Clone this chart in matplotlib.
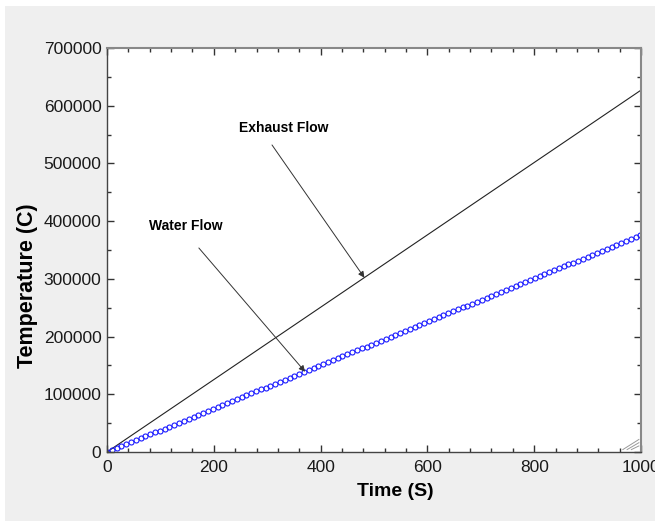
import matplotlib
matplotlib.use("Agg")
import matplotlib.pyplot as plt
from matplotlib.patches import Rectangle
from matplotlib.lines import Line2D
from matplotlib.ticker import MultipleLocator

# ---- data ----
exhaust_time = [0, 100, 200, 300, 400, 500, 600, 700, 800, 900, 1000]
exhaust_temp = [0, 62700, 125400, 188100, 250800, 313500, 376200, 438900,
                501600, 564300, 627000]

water_time = [0, 9, 18, 27, 36, 45, 54, 63, 72, 81, 90, 99, 108, 117, 126, 135,
              144, 153, 162, 171, 180, 189, 198, 207, 216, 225, 234, 243, 252,
              261, 270, 279, 288, 297, 306, 315, 324, 333, 342, 351, 360, 369,
              378, 387, 396, 405, 414, 423, 432, 441, 450, 459, 468, 477, 486,
              495, 504, 513, 522, 531, 540, 549, 558, 567, 576, 585, 594, 603,
              612, 621, 630, 639, 648, 657, 666, 675, 684, 693, 702, 711, 720,
              729, 738, 747, 756, 765, 774, 783, 792, 801, 810, 819, 828, 837,
              846, 855, 864, 873, 882, 891, 900, 909, 918, 927, 936, 945, 954,
              963, 972, 981, 990, 999]
water_temp = [0, 3400, 6800, 10200, 13500, 16900, 20300, 23700, 27100, 30500,
              33800, 37200, 40600, 44000, 47400, 50800, 54100, 57500, 60900,
              64300, 67700, 71100, 74400, 77800, 81200, 84600, 88000, 91400,
              94800, 98100, 101500, 104900, 108300, 111700, 115100, 118400,
              121800, 125200, 128600, 132000, 135400, 138700, 142100, 145500,
              148900, 152300, 155700, 159000, 162400, 165800, 169200, 172600,
              176000, 179400, 182700, 186100, 189500, 192900, 196300, 199700,
              203000, 206400, 209800, 213200, 216600, 220000, 223300, 226700,
              230100, 233500, 236900, 240300, 243600, 247000, 250400, 253800,
              257200, 260600, 264000, 267300, 270700, 274100, 277500, 280900,
              284300, 287600, 291000, 294400, 297800, 301200, 304600, 307900,
              311300, 314700, 318100, 321500, 324900, 328200, 331600, 335000,
              338400, 341800, 345200, 348600, 351900, 355300, 358700, 362100,
              365500, 368900, 372200, 375600]

x_label = "Time (S)"
y_label = "Temperature (C)"
exhaust_note = "Exhaust Flow"
water_note = "Water Flow"

plt.rcParams['font.family'] = ['Liberation Sans', 'DejaVu Sans']

fig = plt.figure(figsize=(6.55, 5.21), dpi=100, facecolor='#efefef')
# white margins at top / left of the screenshot
fig.patches.append(Rectangle((0, 1 - 6/521), 1, 6/521, transform=fig.transFigure,
                             facecolor='white', edgecolor='none', zorder=-1))
fig.patches.append(Rectangle((0, 0), 5/655, 1, transform=fig.transFigure,
                             facecolor='white', edgecolor='none', zorder=-1))

ax = fig.add_axes([107/655, 1 - 452/521, (641 - 107)/655, (452 - 48)/521])
ax.set_facecolor('white')

ax.plot(exhaust_time, exhaust_temp, color='#222222', lw=0.8)
ax.plot(water_time, water_temp, linestyle='none', marker='o', markersize=3.6,
        markerfacecolor='none', markeredgecolor='#1a1aff', markeredgewidth=0.8)

ax.set_xlim(0, 1000)
ax.set_ylim(0, 700000)
ax.xaxis.set_major_locator(MultipleLocator(200))
ax.xaxis.set_minor_locator(MultipleLocator(40))
ax.yaxis.set_major_locator(MultipleLocator(100000))
ax.yaxis.set_minor_locator(MultipleLocator(50000))
ax.tick_params(which='both', direction='in', top=True, right=True,
               colors='#333333', labelcolor='#1a1a1a', labelsize=12.5)
ax.tick_params(which='major', length=5, width=1)
ax.tick_params(which='minor', length=3, width=1)
ax.tick_params(axis='x', pad=6)
ax.tick_params(axis='y', pad=4)

for s in ['left', 'bottom']:
    ax.spines[s].set_color('#444444')
    ax.spines[s].set_linewidth(1.0)
for s in ['top', 'right']:
    ax.spines[s].set_color('#888888')
    ax.spines[s].set_linewidth(1.5)

ax.set_xlabel(x_label, fontsize=14, fontweight='bold')
ax.set_ylabel(y_label, fontsize=15.5, fontweight='bold')
ax.xaxis.set_label_coords((395 - 107) / 534, -(483 - 452) / 404)
ax.yaxis.set_label_coords(-(107 - 38) / 534, (452 - 286) / 404)

arrow = dict(arrowstyle='-|>', color='#333333', lw=0.7, mutation_scale=9,
             shrinkA=0, shrinkB=0)
ax.annotate("", xy=(482, 302000), xytext=(309, 532000), arrowprops=arrow)
ax.text(330, 561400, exhaust_note, fontsize=10, fontweight='bold',
        ha='center', va='center')
ax.annotate("", xy=(371, 139000), xytext=(172, 353500), arrowprops=arrow)
ax.text(148, 391600, water_note, fontsize=10, fontweight='bold',
        ha='center', va='center')

# resize grip in the lower-right corner
for k in range(3):
    off = 0.006 + 0.008 * k
    ax.add_line(Line2D([1 - off - 0.012, 1 - 0.004], [0.006, off + 0.012 * 0.75],
                       transform=ax.transAxes, color='#999999', lw=0.7))

fig.savefig("out.png", dpi=100, facecolor=fig.get_facecolor())
